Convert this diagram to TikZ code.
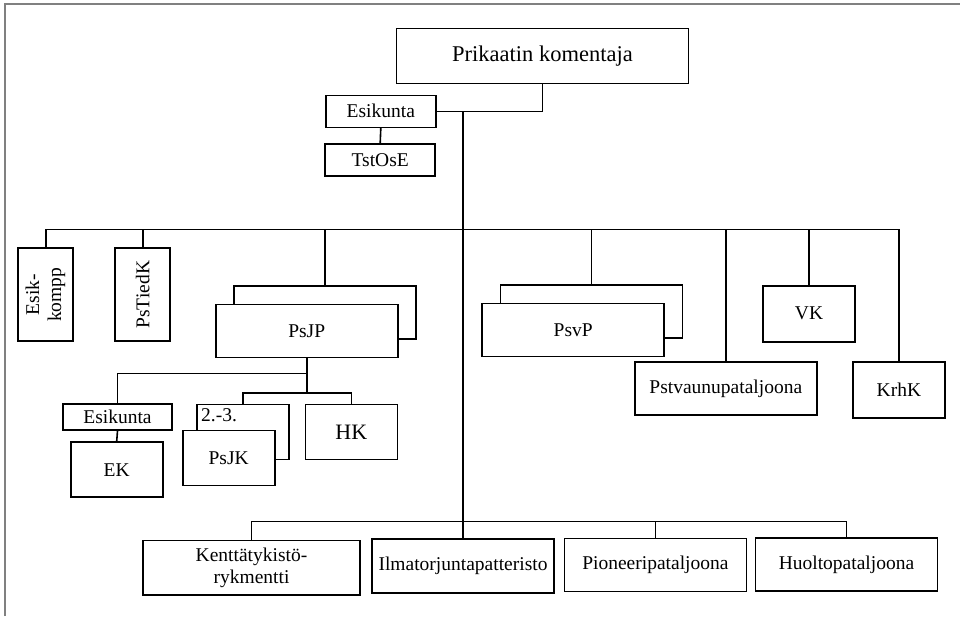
\documentclass[tikz,border=0pt]{standalone}
\usepackage{fontspec}
\usepackage{graphicx}
\setmainfont{Liberation Serif}
\usetikzlibrary{positioning}

\begin{document}
\begin{tikzpicture}[align=center, x=1pt, y=-1pt, font=\fontsize{19.5}{22}\selectfont]

%local definitions
\tikzstyle{Unit} = [draw, fill=white, rectangle, line width=1.6pt, inner sep=0pt]
\tikzstyle{Wide} = [Unit, minimum width=182pt, minimum height=53pt]
\tikzstyle{Small} = [Unit, minimum width=92pt, minimum height=55pt]
\tikzstyle{Tall} = [Unit, minimum width=55pt, minimum height=93pt]
\tikzstyle{Staff} = [Unit, minimum width=110pt, minimum height=32pt]
\tikzstyle{link} = [line width=1.6pt]

\useasboundingbox (0,0) rectangle (960,616);
\draw [gray, line width=1.2pt] (5,616) -- (5,4) -- (960,4);

%command
	\node [Unit, minimum width=292pt, minimum height=55pt, font=\fontsize{22.5}{26}\selectfont] (boss) at (542.5,55.8) {Prikaatin komentaja};
	\node [Staff] (hq) at (380.8,111.3) {Esikunta};
	\node [Staff] (tstose) at (380.2,159.8) {TstOsE};

%first level
	\node [Tall] (esk) at (45.7,294.7) {\rotatebox{90}{\begin{tabular}{@{}c@{}}Esik-\\kompp\end{tabular}}};
	\node [Tall] (tied) at (142.7,294.7) {\rotatebox{90}{PsTiedK}};
	\node [Wide] (psjpB) at (325,312.3) {};
	\node [Wide] (psjp) at (306.7,330.8) {PsJP};
	\node [Wide] (psvpB) at (591.5,311.3) {};
	\node [Wide] (psvp) at (573.2,330) {PsvP};
	\node [Wide] (pstv) at (725.8,388.7) {Pstvaunupataljoona};
	\node [Small, minimum height=56pt] (vk) at (809,313.7) {VK};
	\node [Small, minimum height=56pt] (krhk) at (898.9,390.2) {KrhK};

%psjp units
	\node [Staff, minimum width=109pt, minimum height=26pt] (esk2) at (117.5,417) {Esikunta};
	\node [Small] (ek) at (116.7,469.7) {EK};
	\node [Small, label={[anchor=north west, inner sep=0pt, xshift=5pt, yshift=-5pt]north west:2.-3.}] (psjkB) at (242.8,432) {};
	\node [Small] (psjk) at (228.7,458) {PsJK};
	\node [Small, font=\fontsize{22}{26}\selectfont] (hk) at (351.3,431.8) {HK};

%lower row
	\node [Unit, minimum width=216.5pt, minimum height=54.7pt] (kt) at (251.5,567.8) {Kenttätykistö-\\rykmentti};
	\node [Wide, minimum height=53.7pt] (ilma) at (463,566) {Ilmatorjuntapatteristo};
	\node [Wide] (pion) at (655.4,565) {Pioneeripataljoona};
	\node [Wide] (huolto) at (846.5,564.5) {Huoltopataljoona};

\coordinate (bus) at (463,229.5);
\coordinate (lowbus) at (463,521.3);
\coordinate (jpA) at (306.7,373.5);
\coordinate (jpB) at (306.7,392.7);

%connections
	\draw [link] (boss.south) |- (hq.east);
	\draw [link] (hq.south) -- (tstose.north);
	\draw [link] (hq.east -| ilma.north) -- (ilma.north);

	\draw [link] (esk.north) |- (bus) -| (krhk.north);
	\draw [link] (tied.north) -- (tied.north |- bus);
	\draw [link] (psjpB.north) -- (psjpB.north |- bus);
	\draw [link] (psvpB.north) -- (psvpB.north |- bus);
	\draw [link] (pstv.north) -- (pstv.north |- bus);
	\draw [link] (vk.north) -- (vk.north |- bus);

	\draw [link] (psjp.south) -- (jpB);
	\draw [link] (jpA) -| (esk2.north);
	\draw [link] (esk2.south) -- (ek.north);
	\draw [link] (psjkB.north) |- (jpB) -| (hk.north);

	\draw [link] (kt.north) |- (lowbus) -| (huolto.north);
	\draw [link] (pion.north) -- (pion.north |- lowbus);

\end{tikzpicture}
\end{document}
